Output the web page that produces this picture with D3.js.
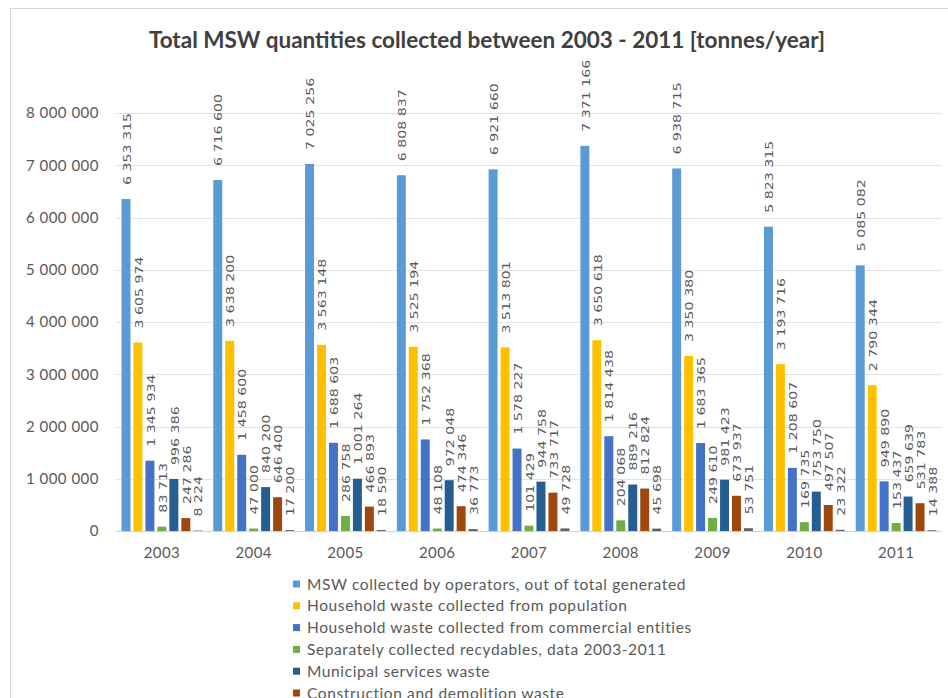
<!DOCTYPE html>
<html>
<head>
<meta charset="utf-8">
<script src="https://cdn.jsdelivr.net/npm/d3@7"></script>
<style>
  html, body { margin: 0; padding: 0; background: #fff; }
  svg { display: block; }
</style>
</head>
<body>
<svg id="chart" width="948" height="698"></svg>
<script>
// Years on the category axis
const years = ["2003", "2004", "2005", "2006", "2007", "2008", "2009", "2010", "2011"];

// One array per waste stream, tonnes/year
const mswCollected      = [6353315, 6716600, 7025256, 6808837, 6921660, 7371166, 6938715, 5823315, 5085082];
const householdPop      = [3605974, 3638200, 3563148, 3525194, 3513801, 3650618, 3350380, 3193716, 2790344];
const householdComm     = [1345934, 1458600, 1688603, 1752368, 1578227, 1814438, 1683365, 1208607, 949890];
const recyclables       = [83713, 47000, 286758, 48108, 101429, 204068, 249610, 169735, 153437];
const municipalServices = [996386, 840200, 1001264, 972048, 944758, 889216, 981423, 753750, 659639];
const construction      = [247286, 646400, 466893, 474346, 733717, 812824, 673937, 497507, 531783];
const otherWaste        = [8224, 17200, 18590, 36773, 49728, 45698, 53751, 23322, 14388];

const seriesNames = [
  "MSW collected by operators, out of total generated",
  "Household waste collected from population",
  "Household waste collected from commercial entities",
  "Separately collected recydables, data 2003-2011",
  "Municipal services waste",
  "Construction and demolition waste",
  "Other waste"
];
const seriesValues = [mswCollected, householdPop, householdComm, recyclables, municipalServices, construction, otherWaste];
const seriesColors = ["#5B9BD5", "#FFC000", "#4472C4", "#70AD47", "#255E91", "#9E480E", "#636363"];

// Y axis ticks
const yTicks = [0, 1000000, 2000000, 3000000, 4000000, 5000000, 6000000, 7000000, 8000000];

const title = "Total MSW quantities collected between 2003 - 2011 [tonnes/year]";

const fmt = d3.formatLocale({ decimal: ".", thousands: " ", grouping: [3], currency: ["", ""] }).format(",");

const svg = d3.select("#chart");
const textColor = "#595959";
const fontFamily = "Lato, 'Open Sans', sans-serif";

// Outer chart frame
svg.append("rect")
  .attr("x", 10.5).attr("y", 8.5)
  .attr("width", 980).attr("height", 720)
  .attr("fill", "#fff")
  .attr("stroke", "#D9D9D9").attr("stroke-width", 1);

// Title
svg.append("text")
  .attr("x", 487).attr("y", 48)
  .attr("text-anchor", "middle")
  .attr("font-family", fontFamily)
  .attr("font-weight", 700)
  .attr("font-size", 22.5)
  .attr("fill", "#404040")
  .text(title);

// Scales
const plotLeft = 116, plotRight = 942, plotTop = 113, plotBottom = 531;
const x0 = d3.scaleBand().domain(years).range([plotLeft, plotRight]).paddingInner(0.12).paddingOuter(0.06);
const x1 = d3.scaleBand().domain(d3.range(seriesValues.length)).range([0, x0.bandwidth()]).paddingInner(0.25).paddingOuter(0);
const y = d3.scaleLinear().domain([0, 8000000]).range([plotBottom, plotTop]);

// Horizontal gridlines
svg.append("g").selectAll("line")
  .data(yTicks.filter(d => d > 0))
  .join("line")
  .attr("x1", plotLeft).attr("x2", plotRight)
  .attr("y1", d => Math.round(y(d)) + 0.5).attr("y2", d => Math.round(y(d)) + 0.5)
  .attr("stroke", "#E3E3E3").attr("stroke-width", 1);

// Y axis labels
const yAxis = d3.axisLeft(y).tickValues(yTicks).tickFormat(fmt).tickSize(0).tickPadding(0);
const yG = svg.append("g").attr("transform", `translate(${plotLeft - 17},0)`).call(yAxis);
yG.select(".domain").remove();
yG.selectAll("text")
  .attr("font-family", fontFamily)
  .attr("font-size", 15)
  .attr("letter-spacing", 0.5)
  .attr("fill", textColor);

// Bars
const groups = svg.append("g").selectAll("g")
  .data(years)
  .join("g")
  .attr("transform", d => `translate(${x0(d)},0)`);

groups.selectAll("rect")
  .data((yr, i) => seriesValues.map((vals, s) => ({ s, v: vals[i] })))
  .join("rect")
  .attr("x", d => x1(d.s))
  .attr("width", x1.bandwidth())
  .attr("y", d => y(d.v))
  .attr("height", d => y(0) - y(d.v))
  .attr("fill", d => seriesColors[d.s]);

// Value labels, rotated, above each bar
groups.selectAll("text")
  .data((yr, i) => seriesValues.map((vals, s) => ({ s, v: vals[i] })))
  .join("text")
  .attr("transform", d => `translate(${x1(d.s) + x1.bandwidth() / 2 + 1},${y(d.v) - 14}) rotate(-90) scale(1.35,1)`)
  .attr("dy", "0.35em")
  .attr("font-family", "'DejaVu Sans', sans-serif")
  .attr("font-size", 10.5)
  .attr("fill", textColor)
  .text(d => fmt(d.v));

// X axis
svg.append("line")
  .attr("x1", plotLeft).attr("x2", plotRight)
  .attr("y1", plotBottom + 0.5).attr("y2", plotBottom + 0.5)
  .attr("stroke", "#D0D0D0");

const xAxis = d3.axisBottom(x0).tickSize(0).tickPadding(0);
const xG = svg.append("g").attr("transform", `translate(0,${plotBottom + 27})`).call(xAxis);
xG.select(".domain").remove();
xG.selectAll("text")
  .attr("dy", 0)
  .attr("font-family", fontFamily)
  .attr("font-size", 15)
  .attr("letter-spacing", 0.4)
  .attr("fill", textColor);

// Legend
const legend = svg.append("g").attr("transform", "translate(293,0)");
const legendItems = legend.selectAll("g")
  .data(seriesNames)
  .join("g")
  .attr("transform", (d, i) => `translate(0,${584 + i * 21.8})`);
legendItems.append("rect")
  .attr("x", 0).attr("y", -3.5)
  .attr("width", 7).attr("height", 7)
  .attr("fill", (d, i) => seriesColors[i]);
legendItems.append("text")
  .attr("x", 14).attr("y", 0)
  .attr("dy", "0.36em")
  .attr("font-family", fontFamily)
  .attr("font-size", 15.5)
  .attr("letter-spacing", 0.6)
  .attr("fill", textColor)
  .text(d => d);
</script>
</body>
</html>
